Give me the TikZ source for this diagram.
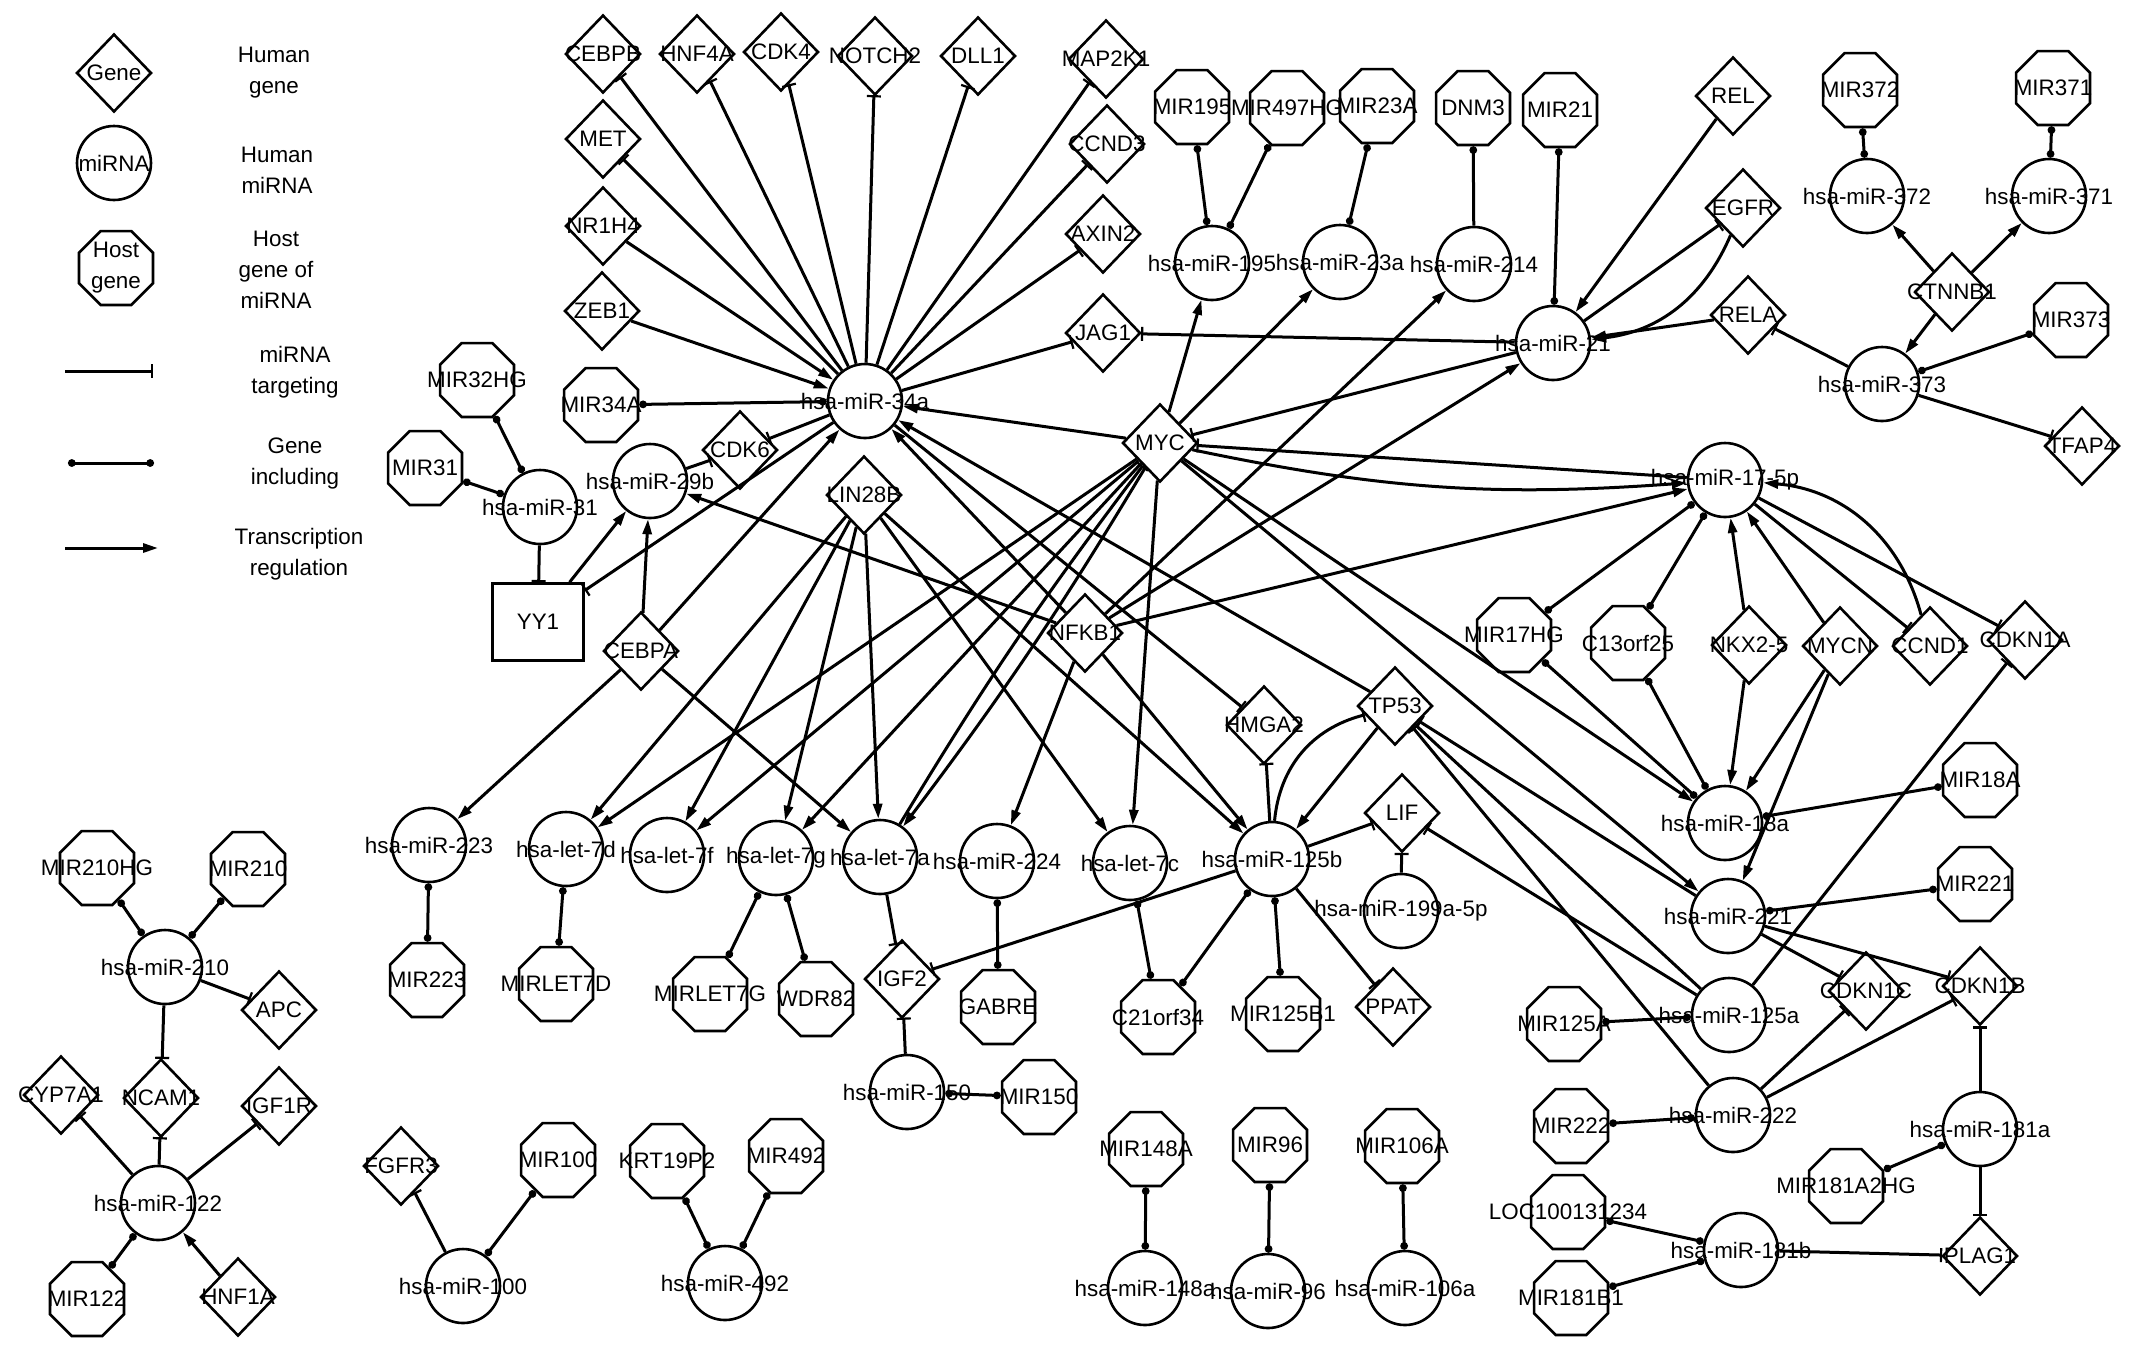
\documentclass[tikz,border=0pt]{standalone}
\usepackage{fontspec}
\setmainfont{Liberation Sans}
\usetikzlibrary{shapes.geometric,arrows.meta}

\tikzset{
    gene/.style={diamond,draw,line width=1.3pt,minimum width=37.5pt,minimum height=39pt,inner sep=0pt,label={center:#1}},
    mirna/.style={circle,draw,line width=1.3pt,minimum size=37pt,inner sep=0pt,label={center:#1}},
    host/.style={regular polygon,regular polygon sides=8,draw,line width=1.3pt,minimum size=40pt,inner sep=0pt,label={[align=center]center:#1}},
    tgt/.style={line width=1.5pt,-{Bar[width=7pt,line width=1.1pt]}},
    incl/.style={line width=1.5pt,{Circle[length=3.8pt]}-{Circle[length=3.8pt]}},
    trx/.style={line width=1.5pt,-{Triangle[length=7.5pt,width=4.5pt]}}
}

\begin{document}
\begin{tikzpicture}[x=0.5pt,y=-0.5pt,font=\fontsize{11.2}{15.5}\selectfont]
    \fill[white] (0,0) rectangle (2150,1351);
    \useasboundingbox (0,0) rectangle (2150,1351);

    % Legend
    \node[gene=Gene] (lgGene) at (114,73) {};
    \node[align=center] (lgGeneTxt) at (274,73) {Human\\gene};
    \node[mirna=miRNA] (lgMir) at (114,163) {};
    \node[align=center] (lgMirTxt) at (277,170) {Human\\miRNA};
    \node[host={Host\\gene}] (lgHost) at (116,268) {};
    \node[align=center] (lgHostTxt) at (276,270) {Host\\gene of\\miRNA};
    \coordinate (lgTa) at (65,371);
    \coordinate (lgTb) at (153,371);
    \node[align=center] (lgTTxt) at (295,372) {miRNA\\targeting};
    \coordinate (lgIa) at (68,463);
    \coordinate (lgIb) at (154,463);
    \node[align=center] (lgITxt) at (295,463) {Gene\\including};
    \coordinate (lgRa) at (65,548);
    \coordinate (lgRb) at (158,548);
    \node[align=center] (lgRTxt) at (299,554) {Transcription\\regulation};
    \draw[tgt] (lgTa) -- (lgTb);
    \draw[incl] (lgIa) -- (lgIb);
    \draw[trx] (lgRa) -- (lgRb);

    % Genes
    \node[gene=CEBPB] (CEBPB) at (603,54) {};
    \node[gene=HNF4A] (HNF4A) at (697,54) {};
    \node[gene=CDK4] (CDK4) at (781,52) {};
    \node[gene=NOTCH2] (NOTCH2) at (875,56) {};
    \node[gene=DLL1] (DLL1) at (978,56) {};
    \node[gene=MAP2K1] (MAP2K1) at (1106,59) {};
    \node[gene=MET] (MET) at (603,139) {};
    \node[gene=CCND3] (CCND3) at (1107,144) {};
    \node[gene=NR1H4] (NR1H4) at (603,226) {};
    \node[gene=AXIN2] (AXIN2) at (1103,234) {};
    \node[gene=ZEB1] (ZEB1) at (602,311) {};
    \node[gene=JAG1] (JAG1) at (1103,333) {};
    \node[gene=CDK6] (CDK6) at (740,450) {};
    \node[gene=MYC] (MYC) at (1160,443) {};
    \node[gene=LIN28B] (LIN28B) at (864,495) {};
    \node[gene=CEBPA] (CEBPA) at (641,651) {};
    \node[gene=NFKB1] (NFKB1) at (1085,633) {};
    \node[gene=HMGA2] (HMGA2) at (1264,725) {};
    \node[gene=TP53] (TP53) at (1395,706) {};
    \node[gene=LIF] (LIF) at (1402,813) {};
    \node[gene=IGF2] (IGF2) at (902,979) {};
    \node[gene=PPAT] (PPAT) at (1393,1007) {};
    \node[gene=REL] (REL) at (1733,96) {};
    \node[gene=EGFR] (EGFR) at (1743,208) {};
    \node[gene=RELA] (RELA) at (1748,315) {};
    \node[gene=CTNNB1] (CTNNB1) at (1952,292) {};
    \node[gene=TFAP4] (TFAP4) at (2082,446) {};
    \node[gene=NKX2-5] (NKX25) at (1749,645) {};
    \node[gene=MYCN] (MYCN) at (1840,646) {};
    \node[gene=CCND1] (CCND1) at (1930,646) {};
    \node[gene=CDKN1A] (CDKN1A) at (2025,640) {};
    \node[gene=CDKN1C] (CDKN1C) at (1866,991) {};
    \node[gene=CDKN1B] (CDKN1B) at (1980,986) {};
    \node[gene=PLAG1] (PLAG1) at (1980,1256) {};
    \node[gene=APC] (APC) at (279,1010) {};
    \node[gene=NCAM1] (NCAM1) at (161,1098) {};
    \node[gene=CYP7A1] (CYP7A1) at (61,1095) {};
    \node[gene=IGF1R] (IGF1R) at (279,1106) {};
    \node[gene=HNF1A] (HNF1A) at (238,1297) {};
    \node[gene=FGFR3] (FGFR3) at (401,1166) {};
    \node[draw,line width=1.3pt,minimum width=45.5pt,minimum height=38.5pt,inner sep=0pt] (YY1) at (538,622) {YY1};

    % miRNAs
    \node[mirna=hsa-miR-34a] (m34a) at (865,401) {};
    \node[mirna=hsa-miR-31] (m31) at (540,507) {};
    \node[mirna=hsa-miR-29b] (m29b) at (650,481) {};
    \node[mirna=hsa-miR-195] (m195) at (1212,263) {};
    \node[mirna=hsa-miR-23a] (m23a) at (1340,262) {};
    \node[mirna=hsa-miR-214] (m214) at (1474,264) {};
    \node[mirna=hsa-miR-21] (m21) at (1553,343) {};
    \node[mirna=hsa-miR-372] (m372) at (1867,196) {};
    \node[mirna=hsa-miR-371] (m371) at (2049,196) {};
    \node[mirna=hsa-miR-373] (m373) at (1882,384) {};
    \node[mirna=hsa-miR-17-5p] (m17) at (1725,480) {};
    \node[mirna=hsa-miR-18a] (m18a) at (1725,823) {};
    \node[mirna=hsa-miR-221] (m221) at (1728,916) {};
    \node[mirna=hsa-miR-125a] (m125a) at (1729,1015) {};
    \node[mirna=hsa-miR-222] (m222) at (1733,1115) {};
    \node[mirna=hsa-miR-181a] (m181a) at (1980,1129) {};
    \node[mirna=hsa-miR-181b] (m181b) at (1741,1250) {};
    \node[mirna=hsa-miR-223] (m223) at (429,845) {};
    \node[mirna=hsa-let-7d] (l7d) at (566,849) {};
    \node[mirna=hsa-let-7f] (l7f) at (667,855) {};
    \node[mirna=hsa-let-7g] (l7g) at (776,858) {};
    \node[mirna=hsa-let-7a] (l7a) at (880,857) {};
    \node[mirna=hsa-miR-224] (m224) at (997,861) {};
    \node[mirna=hsa-let-7c] (l7c) at (1130,863) {};
    \node[mirna=hsa-miR-125b] (m125b) at (1272,859) {};
    \node[mirna=hsa-miR-199a-5p] (m199) at (1401,911) {};
    \node[mirna=hsa-miR-150] (m150) at (907,1092) {};
    \node[mirna=hsa-miR-210] (m210) at (165,967) {};
    \node[mirna=hsa-miR-122] (m122) at (158,1203) {};
    \node[mirna=hsa-miR-100] (m100) at (463,1286) {};
    \node[mirna=hsa-miR-492] (m492) at (725,1283) {};
    \node[mirna=hsa-miR-148a] (m148a) at (1145,1288) {};
    \node[mirna=hsa-miR-96] (m96) at (1268,1291) {};
    \node[mirna=hsa-miR-106a] (m106a) at (1405,1288) {};

    % Host genes
    \node[host=MIR32HG] (MIR32HG) at (477,380) {};
    \node[host=MIR31] (MIR31) at (425,468) {};
    \node[host=MIR34A] (MIR34A) at (601,405) {};
    \node[host=MIR195] (MIR195) at (1192,107) {};
    \node[host=MIR497HG] (MIR497HG) at (1287,108) {};
    \node[host=MIR23A] (MIR23A) at (1377,106) {};
    \node[host=DNM3] (DNM3) at (1473,108) {};
    \node[host=MIR21] (MIR21) at (1560,110) {};
    \node[host=MIR372] (MIR372) at (1860,90) {};
    \node[host=MIR371] (MIR371) at (2053,88) {};
    \node[host=MIR373] (MIR373) at (2071,320) {};
    \node[host=MIR17HG] (MIR17HG) at (1514,635) {};
    \node[host=C13orf25] (C13orf25) at (1628,643) {};
    \node[host=MIR18A] (MIR18A) at (1980,780) {};
    \node[host=MIR221] (MIR221) at (1975,884) {};
    \node[host=MIR125A] (MIR125A) at (1564,1024) {};
    \node[host=MIR222] (MIR222) at (1571,1126) {};
    \node[host=LOC100131234] (LOC100131234) at (1568,1212) {};
    \node[host=MIR181B1] (MIR181B1) at (1571,1298) {};
    \node[host=MIR181A2HG] (MIR181A2HG) at (1846,1186) {};
    \node[host=MIR223] (MIR223) at (427,980) {};
    \node[host=MIRLET7D] (MIRLET7D) at (556,984) {};
    \node[host=MIRLET7G] (MIRLET7G) at (710,994) {};
    \node[host=WDR82] (WDR82) at (816,999) {};
    \node[host=GABRE] (GABRE) at (998,1007) {};
    \node[host=C21orf34] (C21orf34) at (1158,1017) {};
    \node[host=MIR125B1] (MIR125B1) at (1283,1014) {};
    \node[host=MIR150] (MIR150) at (1039,1097) {};
    \node[host=MIR210HG] (MIR210HG) at (97,868) {};
    \node[host=MIR210] (MIR210) at (248,869) {};
    \node[host=MIR122] (MIR122) at (87,1299) {};
    \node[host=MIR100] (MIR100) at (558,1160) {};
    \node[host=KRT19P2] (KRT19P2) at (667,1161) {};
    \node[host=MIR492] (MIR492) at (786,1156) {};
    \node[host=MIR148A] (MIR148A) at (1146,1149) {};
    \node[host=MIR96] (MIR96) at (1270,1145) {};
    \node[host=MIR106A] (MIR106A) at (1402,1146) {};

    % hsa-miR-34a
    \draw[tgt] (m34a) -- (CEBPB);
    \draw[tgt] (m34a) -- (HNF4A);
    \draw[tgt] (m34a) -- (CDK4);
    \draw[tgt] (m34a) -- (NOTCH2);
    \draw[tgt] (m34a) -- (DLL1);
    \draw[tgt] (m34a) -- (MAP2K1);
    \draw[tgt] (m34a) -- (MET);
    \draw[tgt] (m34a) -- (CCND3);
    \draw[tgt] (m34a) -- (AXIN2);
    \draw[tgt] (m34a) -- (JAG1);
    \draw[tgt] (m34a) -- (CDK6);
    \draw[tgt] (m34a) -- (YY1);
    \draw[tgt] (m34a) -- (HMGA2);
    \draw[trx] (NR1H4) -- (m34a);
    \draw[trx] (ZEB1) -- (m34a);
    \draw[trx] (MYC) -- (m34a);
    \draw[trx] (TP53) -- (m34a);
    \draw[trx] (NFKB1) -- (m34a);
    \draw[trx] (CEBPA) -- (m34a);
    \draw[incl] (m34a) -- (MIR34A);

    % hsa-miR-31, hsa-miR-29b
    \draw[incl] (m31) -- (MIR32HG);
    \draw[incl] (m31) -- (MIR31);
    \draw[tgt] (m31) -- (YY1);
    \draw[trx] (YY1) -- (m29b);
    \draw[trx] (CEBPA) -- (m29b);
    \draw[trx] (NFKB1) -- (m29b);
    \draw[tgt] (m29b) -- (CDK6);

    % CEBPA, LIN28B and MYC on let-7
    \draw[trx] (CEBPA) -- (m223);
    \draw[trx] (CEBPA) -- (l7a);
    \draw[trx] (LIN28B) -- (l7d);
    \draw[trx] (LIN28B) -- (l7f);
    \draw[trx] (LIN28B) -- (l7g);
    \draw[trx] (LIN28B) -- (l7a);
    \draw[trx] (LIN28B) -- (l7c);
    \draw[trx] (LIN28B) -- (m125b);
    \draw[trx] (MYC) -- (l7d);
    \draw[trx] (MYC) -- (l7f);
    \draw[trx] (MYC) -- (l7g);
    \draw[trx] (MYC) to[bend left=3] (l7a);
    \draw[tgt] (l7a) to[bend left=3] (MYC);
    \draw[trx] (MYC) -- (l7c);

    % MYC and NFKB1
    \draw[trx] (MYC) -- (m195);
    \draw[trx] (MYC) -- (m23a);
    \draw[trx] (MYC) -- (m18a);
    \draw[trx] (MYC) -- (m221);
    \draw[tgt] (m21) -- (MYC);
    \draw[tgt] (m17) -- (MYC);
    \draw[trx] (MYC) to[bend right=8] (m17);
    \draw[trx] (NFKB1) -- (m214);
    \draw[trx] (NFKB1) -- (m21);
    \draw[trx] (NFKB1) -- (m17);
    \draw[trx] (NFKB1) -- (m224);
    \draw[trx] (NFKB1) -- (m125b);

    % hsa-miR-195, 23a, 214, 21
    \draw[incl] (m195) -- (MIR195);
    \draw[incl] (m195) -- (MIR497HG);
    \draw[incl] (m23a) -- (MIR23A);
    \draw[line width=1.5pt,{Circle[length=3.8pt]}-] (DNM3) -- (m214);
    \draw[incl] (m21) -- (MIR21);
    \draw[trx] (REL) -- (m21);
    \draw[tgt] (m21) -- (EGFR);
    \draw[trx] (EGFR) to[bend left=30] (m21);
    \draw[trx] (RELA) -- (m21);
    \draw[tgt] (m21) -- (JAG1);

    % CTNNB1 and hsa-miR-371/372/373
    \draw[trx] (CTNNB1) -- (m372);
    \draw[trx] (CTNNB1) -- (m371);
    \draw[trx] (CTNNB1) -- (m373);
    \draw[incl] (m372) -- (MIR372);
    \draw[incl] (m371) -- (MIR371);
    \draw[incl] (m373) -- (MIR373);
    \draw[tgt] (m373) -- (RELA);
    \draw[tgt] (m373) -- (TFAP4);

    % hsa-miR-17-5p and hsa-miR-18a
    \draw[incl] (m17) -- (MIR17HG);
    \draw[incl] (m17) -- (C13orf25);
    \draw[trx] (NKX25) -- (m17);
    \draw[trx] (MYCN) -- (m17);
    \draw[tgt] (m17) -- (CCND1);
    \draw[trx] (CCND1) to[bend right=35] (m17);
    \draw[tgt] (m17) -- (CDKN1A);
    \draw[incl] (m18a) -- (MIR17HG);
    \draw[incl] (m18a) -- (C13orf25);
    \draw[trx] (NKX25) -- (m18a);
    \draw[trx] (MYCN) -- (m18a);
    \draw[incl] (m18a) -- (MIR18A);

    % hsa-miR-221, 125a, 222
    \draw[trx] (MYCN) -- (m221);
    \draw[incl] (m221) -- (MIR221);
    \draw[tgt] (m221) -- (CDKN1C);
    \draw[tgt] (m221) -- (CDKN1B);
    \draw[tgt] (m221) -- (TP53);
    \draw[tgt] (m125a) -- (TP53);
    \draw[tgt] (m125a) -- (LIF);
    \draw[incl] (m125a) -- (MIR125A);
    \draw[tgt] (m125a) -- (CDKN1A);
    \draw[tgt] (m222) -- (TP53);
    \draw[incl] (m222) -- (MIR222);
    \draw[tgt] (m222) -- (CDKN1C);
    \draw[tgt] (m222) -- (CDKN1B);

    % hsa-miR-181a, 181b
    \draw[tgt] (m181a) -- (CDKN1B);
    \draw[tgt] (m181a) -- (PLAG1);
    \draw[incl] (m181a) -- (MIR181A2HG);
    \draw[incl] (m181b) -- (LOC100131234);
    \draw[incl] (m181b) -- (MIR181B1);
    \draw[tgt] (m181b) -- (PLAG1);

    % hsa-miR-125b
    \draw[trx] (TP53) -- (m125b);
    \draw[tgt] (m125b) to[bend left=35] (TP53);
    \draw[tgt] (m125b) -- (HMGA2);
    \draw[tgt] (m125b) -- (LIF);
    \draw[tgt] (m125b) -- (IGF2);
    \draw[incl] (m125b) -- (C21orf34);
    \draw[incl] (m125b) -- (MIR125B1);
    \draw[tgt] (m125b) -- (PPAT);
    \draw[tgt] (m199) -- (LIF);

    % lower row
    \draw[incl] (l7c) -- (C21orf34);
    \draw[incl] (m224) -- (GABRE);
    \draw[incl] (l7g) -- (MIRLET7G);
    \draw[incl] (l7g) -- (WDR82);
    \draw[incl] (l7d) -- (MIRLET7D);
    \draw[tgt] (l7a) -- (IGF2);
    \draw[tgt] (m150) -- (IGF2);
    \draw[incl] (m150) -- (MIR150);
    \draw[incl] (m223) -- (MIR223);

    % hsa-miR-210 and hsa-miR-122
    \draw[incl] (m210) -- (MIR210HG);
    \draw[incl] (m210) -- (MIR210);
    \draw[tgt] (m210) -- (APC);
    \draw[tgt] (m210) -- (NCAM1);
    \draw[tgt] (m122) -- (CYP7A1);
    \draw[tgt] (m122) -- (NCAM1);
    \draw[tgt] (m122) -- (IGF1R);
    \draw[incl] (m122) -- (MIR122);
    \draw[trx] (HNF1A) -- (m122);

    % small clusters
    \draw[tgt] (m100) -- (FGFR3);
    \draw[incl] (m100) -- (MIR100);
    \draw[incl] (m492) -- (KRT19P2);
    \draw[incl] (m492) -- (MIR492);
    \draw[incl] (m148a) -- (MIR148A);
    \draw[incl] (m96) -- (MIR96);
    \draw[incl] (m106a) -- (MIR106A);
\end{tikzpicture}
\end{document}
